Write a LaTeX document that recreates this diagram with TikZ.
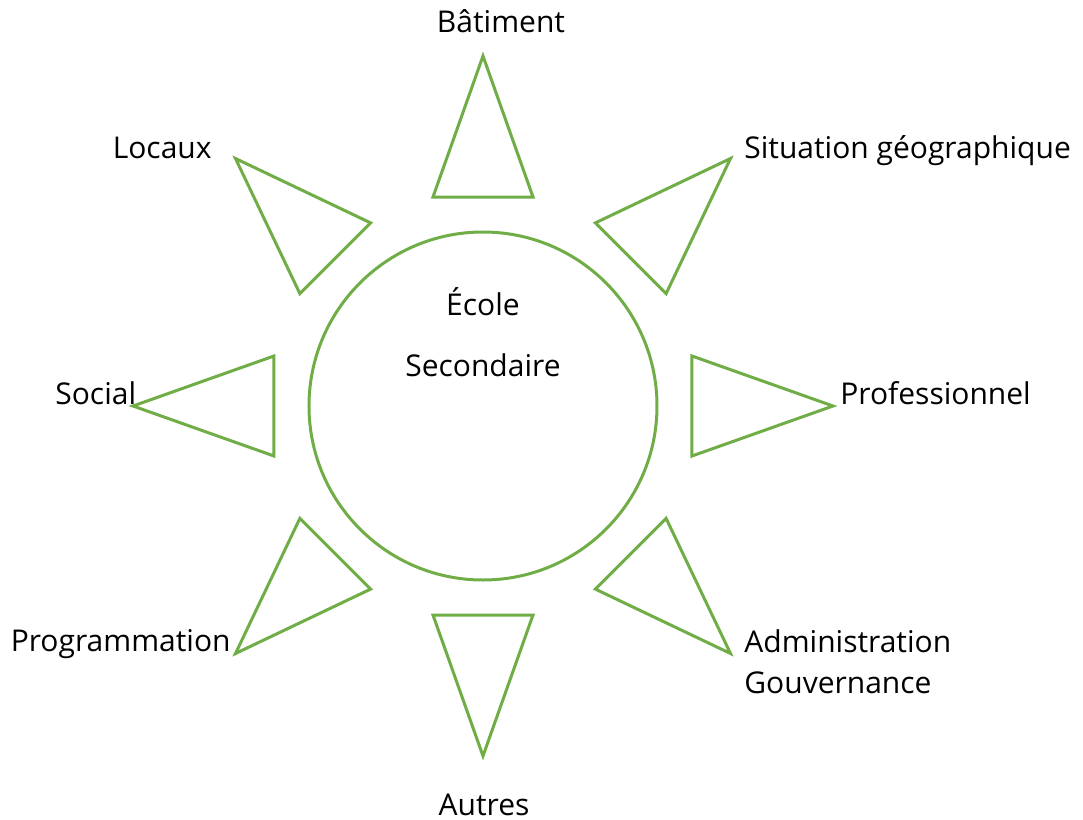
\documentclass[tikz,border=0pt]{standalone}
\usepackage{fontspec}
\setmainfont{Open Sans}
\usepackage{tikz}
\usepackage{xcolor}
\definecolor{leaf}{HTML}{70AD47}

\begin{document}
\begin{tikzpicture}[x=0.5pt,y=0.5pt,
            hub/.style={circle, draw=leaf, line width=1.5pt, minimum size=174pt, inner sep=0pt},
            ray/.style={draw=leaf, line width=1.5pt, line join=miter},
            txt/.style={inner sep=0pt, font=\fontsize{15}{20.5}\selectfont, align=left}
        ]
            \useasboundingbox (-483,-414) rectangle (600,406);

            % Centre circle
            \node[hub] (hub) at (0,0) {};
            \node[txt, anchor=base] (ecole) at (0,91) {École};
            \node[txt, anchor=base] (secondaire) at (0,30) {Secondaire};

            % Rays
            \foreach \a in {0,45,...,315}
                \draw[ray, rotate=\a] (350,0) -- (209,50) -- (209,-50) -- cycle;

            % Labels
            \node[txt, anchor=base] (batiment) at (18,373) {Bâtiment};
            \node[txt, anchor=base east] (locaux) at (-271,248) {Locaux};
            \node[txt, anchor=base west] (situation) at (261,248) {Situation géographique};
            \node[txt, anchor=base west] (social) at (-428,2) {Social};
            \node[txt, anchor=base west] (pro) at (357,2) {Professionnel};
            \node[txt, anchor=base east] (prog) at (-252,-245) {Programmation};
            \node[txt, anchor=base west] (admin) at (261,-287) {Administration\\Gouvernance};
            \node[txt, anchor=base] (autres) at (1,-409) {Autres};

        \end{tikzpicture}
\end{document}
